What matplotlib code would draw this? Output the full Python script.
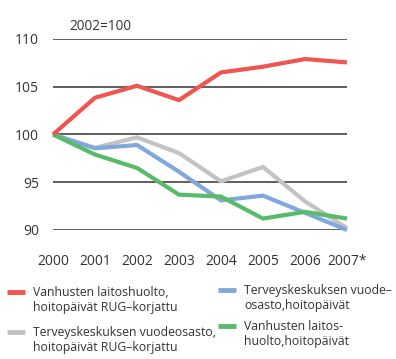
import matplotlib
matplotlib.use("Agg")
import matplotlib.pyplot as plt
from matplotlib.lines import Line2D

plt.rcParams['font.family'] = ['Open Sans', 'DejaVu Sans']

years = ["2000", "2001", "2002", "2003", "2004", "2005", "2006", "2007*"]
red_vals = [100, 103.85, 105.1, 103.6, 106.5, 107.1, 107.9, 107.55]
gray_vals = [100, 98.6, 99.7, 98.05, 95.1, 96.6, 93.0, 90.2]
blue_vals = [100, 98.55, 98.9, 96.1, 93.1, 93.6, 91.8, 90.0]
green_vals = [100, 97.9, 96.5, 93.7, 93.5, 91.2, 91.9, 91.2]
labels = ["Vanhusten laitoshuolto,\nhoitopäivät RUG\u2013korjattu",
          "Terveyskeskuksen vuodeosasto,\nhoitopäivät RUG\u2013korjattu",
          "Terveyskeskuksen vuode\u2013\nosasto,hoitopäivät",
          "Vanhusten laitos-\nhuolto,hoitopäivät"]
colors = ["#f0554f", "#c3c3c3", "#80a8dc", "#58bb6a"]
yticks = [90, 95, 100, 105, 110]

W, H = 396, 359
fig = plt.figure(figsize=(W/100, H/100), dpi=100)
ax = fig.add_axes([53/W, 1 - 230/H, 294/W, 191/H])

x = list(range(len(years)))
series = [red_vals, gray_vals, blue_vals, green_vals]
for i in [1, 2, 3, 0]:
    ax.plot(x, series[i], color=colors[i], lw=3.0, solid_joinstyle='miter',
            solid_capstyle='butt', clip_on=False, zorder=3)

ax.set_xlim(0, len(years) - 1)
ax.set_ylim(90, 110)
ax.set_yticks(yticks)
ax.set_yticklabels([str(t) for t in yticks])
ax.set_xticks(x)
ax.set_xticklabels(years)
for t in yticks:
    ax.axhline(t, color="#333333", lw=1.1, zorder=1)
for s in ax.spines.values():
    s.set_visible(False)
ax.tick_params(axis='both', length=0, labelsize=10, colors="#333333")
ax.tick_params(axis='y', pad=10)
ax.tick_params(axis='x', pad=17)

fig.text(69/W, 1 - 27/H, "2002=100", fontsize=9.8, color="#333333", va='center', ha='left')

# legend
pos = [(7, 292), (7, 332), (218, 290), (218, 326)]
for (px, py), lab, c in zip(pos, labels, colors):
    fig.add_artist(Line2D([px/W, (px + 18)/W], [1 - py/H, 1 - py/H], color=c, lw=3.5,
                          solid_capstyle='butt', transform=fig.transFigure))
    fig.text((px + 26)/W, 1 - (py - 6)/H, lab, fontsize=8.8, color="#333333",
             va='top', ha='left', linespacing=1.2)

fig.savefig("out.png", dpi=100)
